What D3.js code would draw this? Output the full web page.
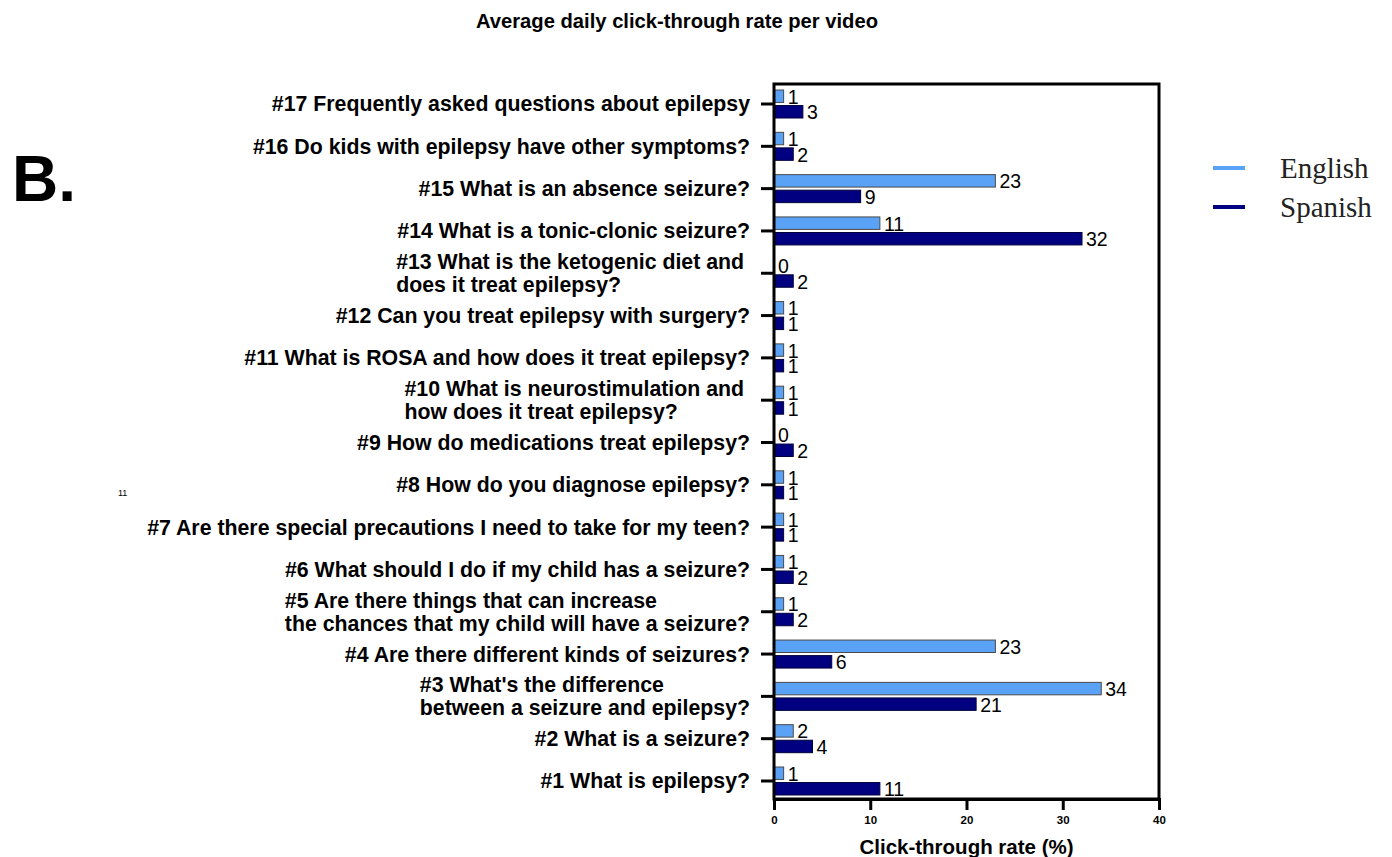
<!DOCTYPE html>
<html>
<head>
<meta charset="utf-8">
<script src="https://cdn.jsdelivr.net/npm/d3@7/dist/d3.min.js"></script>
<style>
  html, body { margin: 0; padding: 0; background: #fff; }
  svg { display: block; }
</style>
</head>
<body>
<svg id="chart" width="1392" height="857" font-family="'Liberation Sans', Arial, Helvetica, sans-serif"></svg>
<script>
// Videos, top to bottom as listed on the chart (multi-line labels split on "\n")
const videos = [
  "#17 Frequently asked questions about epilepsy",
  "#16 Do kids with epilepsy have other symptoms?",
  "#15 What is an absence seizure?",
  "#14 What is a tonic-clonic seizure?",
  "#13 What is the ketogenic diet and \ndoes it treat epilepsy?",
  "#12 Can you treat epilepsy with surgery?",
  "#11 What is ROSA and how does it treat epilepsy?",
  "#10 What is neurostimulation and \nhow does it treat epilepsy?",
  "#9 How do medications treat epilepsy?",
  "#8 How do you diagnose epilepsy?",
  "#7 Are there special precautions I need to take for my teen?",
  "#6 What should I do if my child has a seizure?",
  "#5 Are there things that can increase\nthe chances that my child will have a seizure?",
  "#4 Are there different kinds of seizures?",
  "#3 What's the difference\nbetween a seizure and epilepsy?",
  "#2 What is a seizure?",
  "#1 What is epilepsy?"
];

// Average daily click-through rate (%) per video, same order as above
const english = [1, 1, 23, 11, 0, 1, 1, 1, 0, 1, 1, 1, 1, 23, 34, 2, 1];
const spanish = [3, 2, 9, 32, 2, 1, 1, 1, 2, 1, 1, 2, 2, 6, 21, 4, 11];

const seriesNames = ["English", "Spanish"];
const seriesColors = ["#5aa2f5", "#000080"];
const seriesStroke = ["#4a4a4a", "#00003a"];
const xTicks = [0, 10, 20, 30, 40];

const svg = d3.select("#chart");

const plot = { left: 774, right: 1159, top: 84, bottom: 799 };

const x = d3.scaleLinear().domain([0, 40]).range([plot.left, plot.right]);
const y = d3.scaleBand().domain(videos).range([82.85, 802.15]).paddingInner(0).paddingOuter(0);
const sub = d3.scaleBand().domain(seriesNames).range([-14, 14]).paddingInner(0.2);

// Title
svg.append("text")
  .attr("x", 677).attr("y", 28)
  .attr("text-anchor", "middle")
  .attr("font-size", 20.2).attr("font-weight", "bold")
  .text("Average daily click-through rate per video");

// Panel letter
svg.append("text")
  .attr("x", 12).attr("y", 201)
  .attr("font-size", 64).attr("font-weight", "bold")
  .text("B.");

svg.append("text")
  .attr("x", 118).attr("y", 496)
  .attr("font-size", 9)
  .text("11");

// Bars
const rows = videos.map((v, i) => ({ video: v, values: [english[i], spanish[i]] }));
const groups = svg.append("g").selectAll("g.row").data(rows).join("g")
  .attr("class", "row")
  .attr("transform", d => `translate(0,${y(d.video) + y.bandwidth() / 2})`);

groups.selectAll("rect").data(d => d.values.map((v, k) => ({ v, k })))
  .join("rect")
  .attr("x", x(0))
  .attr("y", d => sub(seriesNames[d.k]))
  .attr("width", d => x(d.v) - x(0))
  .attr("height", sub.bandwidth())
  .attr("fill", d => seriesColors[d.k])
  .attr("stroke", d => seriesStroke[d.k])
  .attr("stroke-width", 1);

groups.selectAll("text.val").data(d => d.values.map((v, k) => ({ v, k })))
  .join("text")
  .attr("class", "val")
  .attr("x", d => x(d.v) + 4)
  .attr("y", d => sub(seriesNames[d.k]) + sub.bandwidth() / 2 + 0.5)
  .attr("dy", "0.36em")
  .attr("font-size", 19.5)
  .text(d => d.v);

// Frame
svg.append("rect")
  .attr("x", plot.left).attr("y", plot.top)
  .attr("width", plot.right - plot.left).attr("height", plot.bottom - plot.top)
  .attr("fill", "none").attr("stroke", "#000").attr("stroke-width", 3);

// X axis
const xAxis = svg.append("g")
  .attr("transform", `translate(0,${plot.bottom})`)
  .call(d3.axisBottom(x).tickValues(xTicks).tickSize(11).tickPadding(6));
xAxis.attr("font-family", null);
xAxis.select(".domain").attr("stroke-width", 3);
xAxis.selectAll(".tick line").attr("stroke-width", 3);
xAxis.selectAll(".tick text")
  .attr("font-size", 11.5).attr("font-weight", "bold");

svg.append("text")
  .attr("x", (plot.left + plot.right) / 2).attr("y", 854)
  .attr("text-anchor", "middle")
  .attr("font-size", 20.5).attr("font-weight", "bold")
  .text("Click-through rate (%)");

// Y axis ticks
const yAxis = svg.append("g")
  .attr("transform", `translate(${plot.left},0)`)
  .call(d3.axisLeft(y).tickSize(13).tickFormat(""));
yAxis.select(".domain").remove();
yAxis.selectAll(".tick line").attr("stroke-width", 3);

// Category labels: multi-line blocks are left-aligned, block ends at the label edge
const labelRight = 750;
const lineGap = 23;
rows.forEach(d => {
  const lines = d.video.split("\n");
  const cy = y(d.video) + y.bandwidth() / 2;
  const t = svg.append("text")
    .attr("font-size", 21.3).attr("font-weight", "bold")
    .style("white-space", "pre");
  const spans = lines.map((ln, j) => t.append("tspan")
    .attr("y", cy + (j - (lines.length - 1) / 2) * lineGap)
    .attr("dy", "0.35em")
    .text(ln));
  const w = d3.max(spans, s => s.node().getComputedTextLength());
  spans.forEach(s => s.attr("x", labelRight - w));
});

// Legend
const legend = svg.append("g");
seriesNames.forEach((name, k) => {
  const ly = 168 + k * 39;
  legend.append("line")
    .attr("x1", 1213).attr("x2", 1245).attr("y1", ly).attr("y2", ly)
    .attr("stroke", seriesColors[k]).attr("stroke-width", 4);
  legend.append("text")
    .attr("x", 1280).attr("y", ly + 9.5)
    .style("font-family", "'Liberation Serif', 'Times New Roman', serif")
    .attr("font-size", 29)
    .attr("fill", "#222")
    .text(name);
});
</script>
</body>
</html>
